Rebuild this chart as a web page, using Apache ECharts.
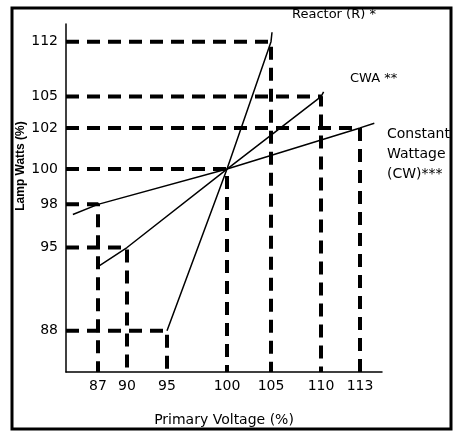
<!DOCTYPE html>
<html>
<head>
<meta charset="utf-8">
<script src="https://cdn.jsdelivr.net/npm/echarts@6/dist/echarts.min.js"></script>
<style>
  html, body { margin: 0; padding: 0; background: #fff; }
  #chart { width: 457px; height: 432px; }
</style>
</head>
<body>
<div id="chart"></div>
<script>
// tick values on each axis
const xTicks = [87, 90, 95, 100, 105, 110, 113];
const yTicks = [88, 95, 98, 100, 102, 105, 112];

// the original scale is schematic (not linear): where each tick sits along the axis, px from origin
const xTickPos = [32, 61, 101, 161, 205, 255, 294];
const yTickPos = [42, 127, 171, 207, 249, 281, 337];
const X_LEN = 316, Y_LEN = 355;

// curves (primary voltage %, lamp watts %)
const reactor = [[95, 88], [100, 100], [105, 112], [105.1, 113.2]];
const cwa = [[87, 93.4], [90, 95], [100, 100], [110, 105], [110.2, 105.6]];
const cw = [[84.4, 97.3], [87, 98], [100, 100], [113, 102], [114.1, 102.45]];

// reading points, projected onto both axes with dashed lines
const refPoints = [[87, 98], [90, 95], [95, 88], [100, 100], [105, 112], [110, 105], [113, 102]];

// piecewise linear mapping value -> axis position
function warp(v, ticks, pos) {
  let i = 0;
  if (v > ticks[ticks.length - 1]) i = ticks.length - 2;
  else {
    while (i < ticks.length - 2 && v > ticks[i + 1]) i++;
  }
  const t = (v - ticks[i]) / (ticks[i + 1] - ticks[i]);
  return pos[i] + t * (pos[i + 1] - pos[i]);
}
const wx = v => warp(v, xTicks, xTickPos);
const wy = v => warp(v, yTicks, yTickPos);
const toAxis = pts => pts.map(p => [wx(p[0]), wy(p[1])]);

const FONT = 'DejaVu Sans';

const chart = echarts.init(document.getElementById('chart'));

const series = [];
refPoints.forEach(p => {
  series.push({
    type: 'line',
    data: [[0, wy(p[1])], [wx(p[0]), wy(p[1])], [wx(p[0]), 0]],
    symbol: 'none',
    silent: true,
    lineStyle: { color: '#000', width: 4, type: [13, 8] }
  });
});
[reactor, cwa, cw].forEach(c => {
  series.push({
    type: 'line',
    data: toAxis(c),
    symbol: 'none',
    silent: true,
    z: 3,
    lineStyle: { color: '#000', width: 1.5 }
  });
});

chart.setOption({
  animation: false,
  backgroundColor: '#fff',
  grid: { left: 66, top: 24, width: X_LEN, height: Y_LEN },
  xAxis: {
    type: 'value',
    min: 0,
    max: X_LEN,
    name: 'Primary Voltage (%)',
    nameLocation: 'middle',
    nameGap: 41,
    nameTextStyle: { fontFamily: FONT, fontSize: 14, color: '#000' },
    axisLine: { lineStyle: { color: '#000', width: 1.5 } },
    axisTick: { show: false },
    splitLine: { show: false },
    axisLabel: {
      customValues: xTickPos,
      formatter: v => String(xTicks[xTickPos.indexOf(v)]),
      fontFamily: FONT,
      fontSize: 14,
      color: '#000',
      margin: 7
    }
  },
  yAxis: {
    type: 'value',
    min: 0,
    max: Y_LEN,
    axisLine: { show: true, lineStyle: { color: '#000', width: 1.5 } },
    axisTick: { show: false },
    splitLine: { show: false },
    axisLabel: {
      customValues: yTickPos,
      formatter: v => String(yTicks[yTickPos.indexOf(v)]),
      fontFamily: FONT,
      fontSize: 14,
      color: '#000',
      margin: 8
    }
  },
  series: series,
  graphic: [
    {
      type: 'text', left: 292, top: 8,
      style: { text: 'Reactor (R) *', font: '13px "DejaVu Sans"', fill: '#000' }
    },
    {
      type: 'text', left: 350, top: 72,
      style: { text: 'CWA **', font: '13px "DejaVu Sans"', fill: '#000' }
    },
    {
      type: 'text', left: 387, top: 124,
      style: { text: 'Constant\nWattage\n(CW)***', font: '14px "DejaVu Sans"', lineHeight: 20, fill: '#000' }
    },
    {
      type: 'text', x: 21, y: 166, rotation: Math.PI / 2,
      style: {
        text: 'Lamp Watts (%)', font: 'bold 12px "Liberation Sans"', fill: '#000',
        align: 'center', verticalAlign: 'middle'
      }
    },
    {
      type: 'rect', z: 100,
      shape: { x: 12, y: 8, width: 439, height: 421 },
      style: { fill: 'none', stroke: '#000', lineWidth: 3 }
    }
  ]
});
</script>
</body>
</html>
